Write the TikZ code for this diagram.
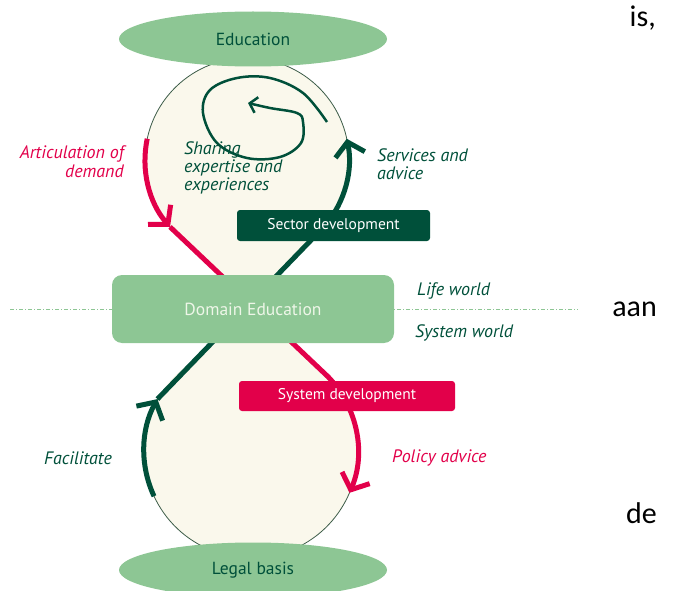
\documentclass[tikz,border=0pt]{standalone}
\usepackage{fontspec}
\setmainfont{PT Sans}
\newfontfamily\wordfont{Carlito}
\usetikzlibrary{arrows.meta,calc,shapes.geometric}
\definecolor{lightgreen}{HTML}{8DC694}
\definecolor{cream}{HTML}{FAF8EC}
\definecolor{darkgreen}{HTML}{00503A}
\definecolor{crimson}{HTML}{E2004A}
\definecolor{rim}{HTML}{3B5B47}
\tikzset{
  pole/.style={ellipse, fill=lightgreen, inner sep=0pt, minimum width=268pt, minimum height=55pt,
    text=darkgreen, font=\fontsize{17.5}{20}\selectfont},
  flow/.style={line width=5pt},
  redflow/.style={flow, draw=crimson},
  greenflow/.style={flow, draw=darkgreen},
  devbox/.style={rounded corners=3pt, inner sep=0pt, minimum height=31pt, text=white,
    font=\fontsize{15.5}{18}\selectfont},
  greenlabel/.style={inner sep=0pt, text=darkgreen, font=\fontsize{18}{18}\selectfont\itshape},
  redlabel/.style={inner sep=0pt, text=crimson, font=\fontsize{18}{19}\selectfont\itshape},
  word/.style={inner sep=0pt, font=\wordfont\fontsize{30}{34}\selectfont},
  >={Straight Barb[length=13pt,width=30pt]},
}
\begin{document}
\begin{tikzpicture}[x=1pt,y=-1pt]
      \useasboundingbox (0,0) rectangle (675,591);

      % centres of the two bulbs
      \coordinate (uc) at (247,160);
      \coordinate (lc) at (251,451);
      \coordinate (R0) at ($(uc)+(-168:102)$);
      \coordinate (R1) at ($(uc)+(-221:102)$);
      \coordinate (R2) at ($(lc)+(-44:107)$);
      \coordinate (G0) at ($(lc)+(-205:107)$);
      \coordinate (G1) at ($(lc)+(-151:107)$);
      \coordinate (G2) at ($(uc)+(40:102)$);

      % border between life world and system world
      \draw[lightgreen, line width=0.7pt, dash pattern=on 4pt off 2pt on 1pt off 2pt] (10,309) -- (578,309);

      % the hourglass
      \fill[cream] (uc) circle[radius=102];
      \fill[cream] (lc) circle[radius=107];
      \fill[cream] (R1) -- (G2) -- (G1) -- (R2) -- cycle;
      \draw[rim, line width=0.8pt] (G2) arc[start angle=40, end angle=-221, radius=102];
      \draw[rim, line width=0.8pt] (G1) arc[start angle=-151, end angle=-404, radius=107];

      % spiral
      \draw[darkgreen, line width=2.5pt, -{Straight Barb[length=7pt,width=16pt]}]
        plot[smooth, tension=0.6] coordinates {(327,122) (303,93) (270,78) (237,78) (210,90) (203,113)
          (217,143) (247,158) (280,157) (301,143) (303,122) (297,113) (270,108) (248,103)};

      \node[pole] (edu) at (253,39) {Education};
      \node[pole] (legal) at (253,570) {Legal basis};

      % flows
      \draw[redflow,->] (R0) arc[start angle=-168, end angle=-221, radius=102];
      \draw[redflow,->] (R1) -- (R2) arc[start angle=-44, end angle=23, radius=107];
      \draw[greenflow,->] (G0) arc[start angle=-205, end angle=-151, radius=107];
      \draw[greenflow,->] (G1) -- (G2) arc[start angle=40, end angle=-12, radius=102];

      \node[devbox, fill=darkgreen, minimum width=193pt] (sector) at (333.5,225.5) {Sector development};
      \node[devbox, fill=crimson, minimum width=216pt, minimum height=30pt] (sysdev) at (347,396) {System development};
      \node[rounded corners=10pt, fill=lightgreen, minimum width=282pt, minimum height=68pt,
        text={rgb,255:red,238;green,246;blue,232}, font=\fontsize{17.5}{20}\selectfont] (domain) at (253,309) {Domain Education};

      \node[redlabel, align=right, anchor=east] (artic) at (124,162) {Articulation of\\demand};
      \node[greenlabel, align=left, anchor=west] (sharing) at (184,168) {Sharing\\expertise and\\experiences};
      \node[greenlabel, align=left, anchor=west] (services) at (377,164) {Services and\\advice};
      \node[greenlabel, anchor=west] (life) at (417,291) {Life world};
      \node[greenlabel, anchor=west] (sysworld) at (415,333) {System world};
      \node[greenlabel, anchor=west] (facil) at (44,458) {Facilitate};
      \node[redlabel, anchor=west] (policy) at (392,458) {Policy advice};

      \node[word, anchor=base east] (is) at (656,27) {is,};
      \node[word, anchor=base east] (aan) at (657,316) {aan};
      \node[word, anchor=base east] (de) at (657,523) {de};
    \end{tikzpicture}
\end{document}
